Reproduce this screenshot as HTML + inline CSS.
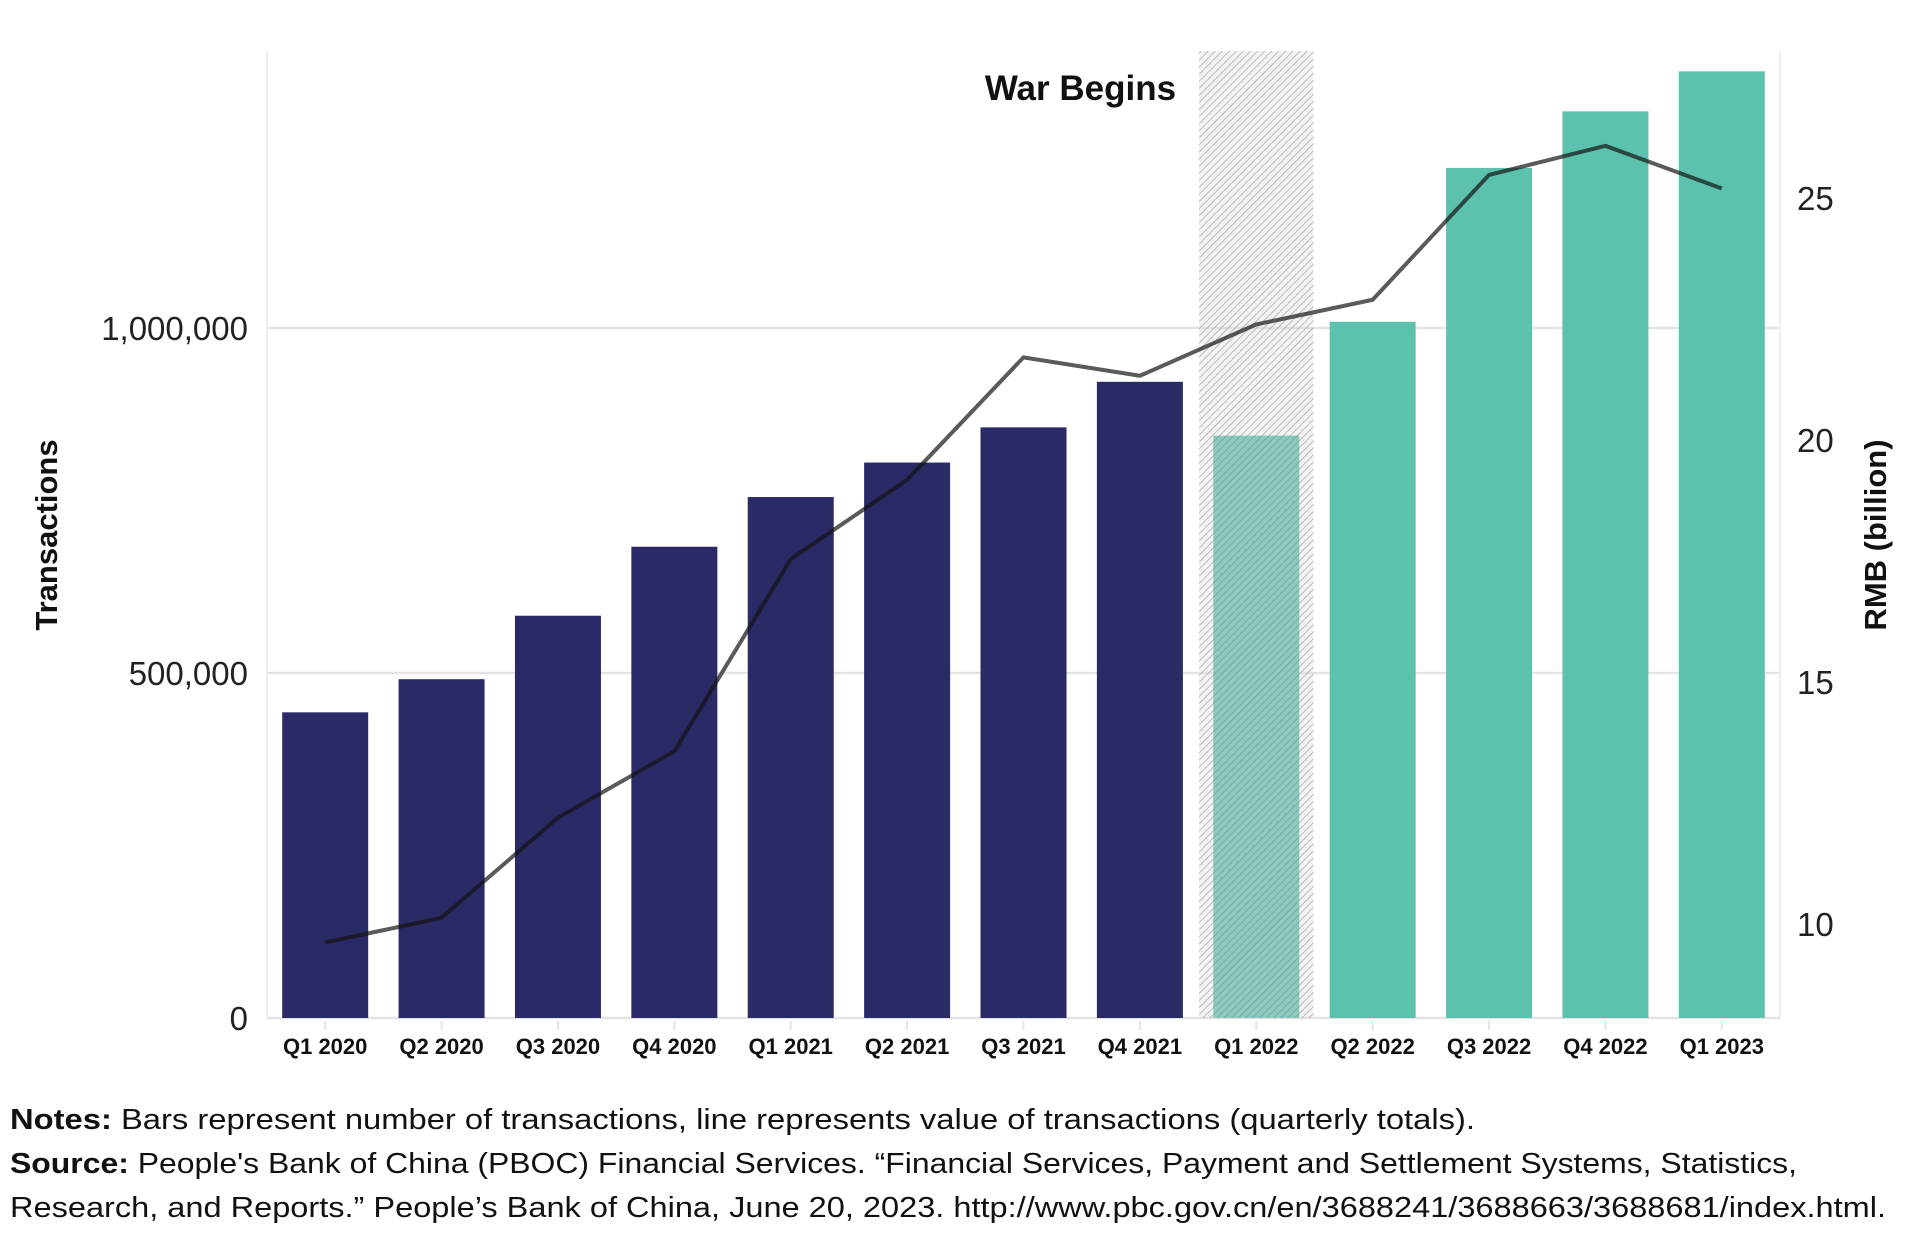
<!DOCTYPE html>
<html><head><meta charset="utf-8">
<style>
html,body{margin:0;padding:0;background:#fff;}
svg{display:block;font-family:"Liberation Sans",sans-serif;}
</style></head>
<body>
<svg id="chart" width="1909" height="1237" viewBox="0 0 1909 1237">
<defs>
<pattern id="hatch" width="5" height="5" patternUnits="userSpaceOnUse" patternTransform="rotate(45)">
<rect width="5" height="5" fill="rgba(220,220,220,0.35)"/>
<line x1="0" y1="0" x2="0" y2="5" stroke="rgba(120,120,120,0.6)" stroke-width="1.5"/>
</pattern>
</defs>
<g id="grid"></g>
<g id="bars"></g>
<rect id="war" fill="url(#hatch)"/>
<g id="line"></g>
<g id="ticks"></g>
<text id="warlabel" text-anchor="end" font-size="35" font-weight="bold" fill="#111">War Begins</text>
<text transform="translate(57,535) rotate(-90)" text-anchor="middle" font-size="31" font-weight="bold" fill="#111">Transactions</text>
<text transform="translate(1886,535) rotate(-90)" text-anchor="middle" font-size="31" font-weight="bold" fill="#111">RMB (billion)</text>
<text x="10" y="1129" font-size="29" fill="#111" textLength="1465" lengthAdjust="spacingAndGlyphs"><tspan font-weight="bold">Notes:</tspan> Bars represent number of transactions, line represents value of transactions (quarterly totals).</text>
<text x="10" y="1173" font-size="29" fill="#111" textLength="1787" lengthAdjust="spacingAndGlyphs"><tspan font-weight="bold">Source:</tspan> People's Bank of China (PBOC) Financial Services. “Financial Services, Payment and Settlement Systems, Statistics,</text>
<text x="10" y="1217" font-size="29" fill="#111" textLength="1876" lengthAdjust="spacingAndGlyphs">Research, and Reports.” People’s Bank of China, June 20, 2023. http://www.pbc.gov.cn/en/3688241/3688663/3688681/index.html.</text>
</svg>
<script>
const categories = ["Q1 2020","Q2 2020","Q3 2020","Q4 2020","Q1 2021","Q2 2021","Q3 2021","Q4 2021","Q1 2022","Q2 2022","Q3 2022","Q4 2022","Q1 2023"];
const transactions = [443000,491000,583000,683000,755000,805000,856000,922000,844000,1009000,1232000,1314000,1372000];
const rmbValues = [9.62,10.13,12.2,13.57,17.54,19.18,21.71,21.33,22.39,22.9,25.48,26.08,25.2];
const leftTicks = [0,500000,1000000];
const leftTickLabels = ["0","500,000","1,000,000"];
const rightTicks = [10,15,20,25];
const warIndex = 8;

const NS="http://www.w3.org/2000/svg";
const X0=267, X1=1780, YB=1018, YT=51;
const step=(X1-X0)/categories.length;
const xc=i=>X0+step*(i+0.5);
const yL=v=>YB-(v/1401449)*(YB-YT);
const yR=v=>YB-((v-8.06)/(28.04-8.06))*(YB-YT);
function mk(tag,attrs,parent){const e=document.createElementNS(NS,tag);for(const k in attrs)e.setAttribute(k,attrs[k]);parent.appendChild(e);return e;}

const grid=document.getElementById('grid'), ticks=document.getElementById('ticks');
leftTicks.forEach((v,i)=>{
  const l=mk('line',{x1:X0,x2:X1,y1:yL(v),y2:yL(v),stroke:'#e4e4e4','stroke-width':2.5},grid);
  
  
  const t=mk('text',{x:248,y:yL(v)+12,'text-anchor':'end','font-size':33,fill:'#222'},ticks);
  t.textContent=leftTickLabels[i];
  
  
});
rightTicks.forEach(v=>{
  const t=mk('text',{x:1797,y:yR(v)+12,'font-size':33,fill:'#222'},ticks);
  t.textContent=String(v);
  
  
});
mk('line',{x1:X0,x2:X0,y1:YT,y2:YB,stroke:'#eeeeee','stroke-width':2},grid);
mk('line',{x1:X1,x2:X1,y1:YT,y2:YB,stroke:'#eeeeee','stroke-width':2},grid);

const bars=document.getElementById('bars');
const bw=86;
categories.forEach((c,i)=>{
  const r=mk('rect',{x:xc(i)-bw/2,y:yL(transactions[i]),width:bw,height:YB-yL(transactions[i]),fill:i<warIndex?'#2a2a66':'#5cc2ae'},bars);
  
  
  mk('line',{x1:xc(i),x2:xc(i),y1:YB+3,y2:YB+12,stroke:'#e4e4e4','stroke-width':2},ticks);
  const t=mk('text',{x:xc(i),y:1054,'text-anchor':'middle','font-size':22,'font-weight':'bold',fill:'#111'},ticks);
  t.textContent=c;
  
  
});
const war=document.getElementById('war');
war.setAttribute('x',xc(warIndex)-step/2+1);
war.setAttribute('width',step-2);
war.setAttribute('y',YT);
war.setAttribute('height',YB-YT);
const wl=document.getElementById('warlabel');
wl.setAttribute('x',xc(warIndex)-step/2-22);
wl.setAttribute('y',100);

const pts=rmbValues.map((v,i)=>xc(i)+','+yR(v)).join(' ');
const pl=mk('polyline',{points:pts,fill:'none',stroke:'rgba(20,20,20,0.7)','stroke-width':4,'stroke-linejoin':'miter'},document.getElementById('line'));


</script>
</body></html>
